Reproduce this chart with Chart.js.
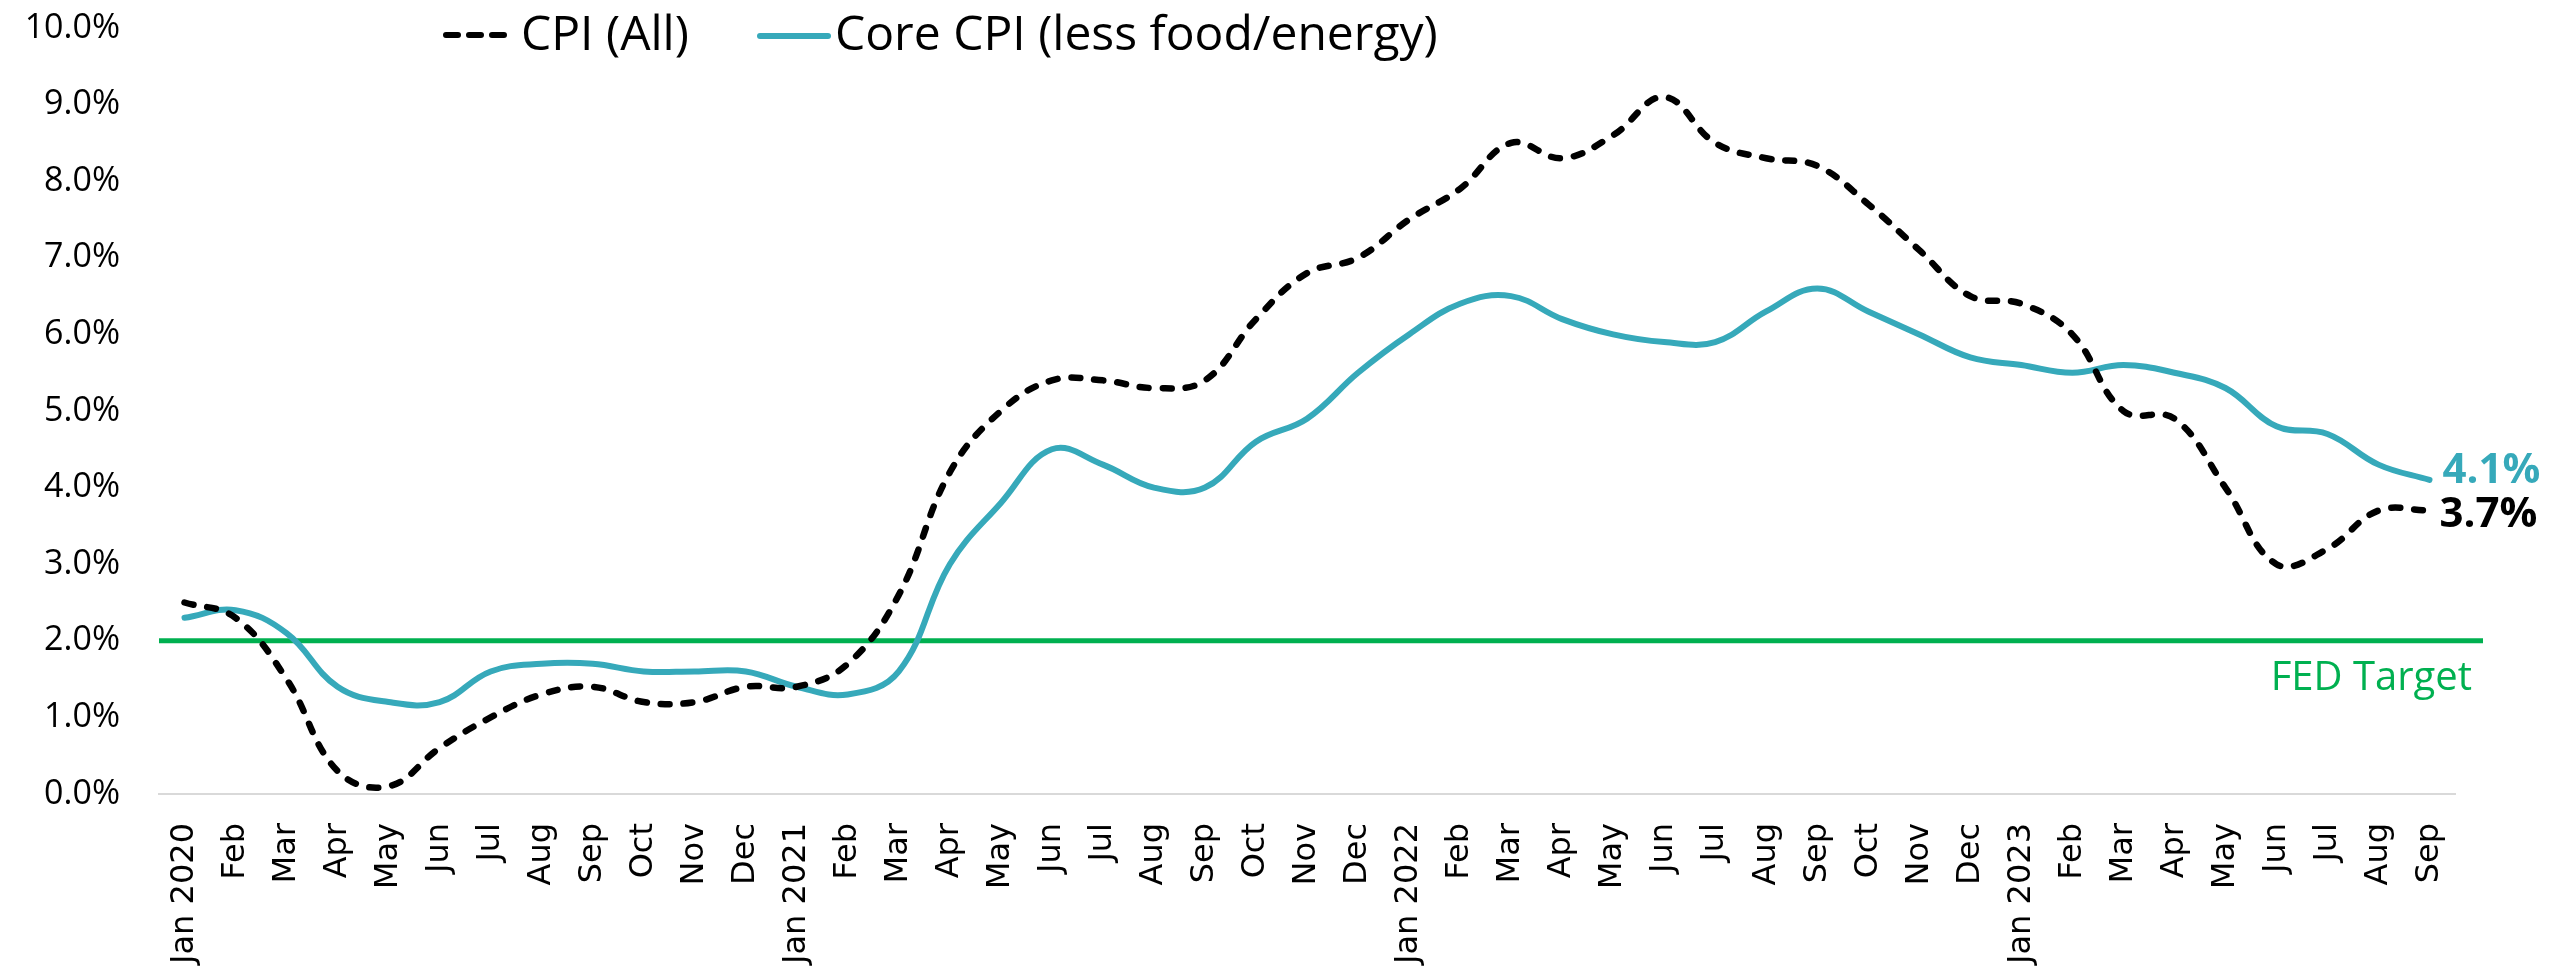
<!DOCTYPE html>
<html>
<head>
<meta charset="utf-8">
<script src="https://cdn.jsdelivr.net/npm/chart.js@4.4.0/dist/chart.umd.min.js"></script>
<style>
html,body{margin:0;padding:0;background:#ffffff;}
#wrap{width:2552px;height:976px;position:relative;}
</style>
</head>
<body>
<div id="wrap"><canvas id="c" width="2552" height="976"></canvas></div>
<script>
// ---------- DATA ----------
const months = [
  'Jan 2020','Feb','Mar','Apr','May','Jun','Jul','Aug','Sep','Oct','Nov','Dec',
  'Jan 2021','Feb','Mar','Apr','May','Jun','Jul','Aug','Sep','Oct','Nov','Dec',
  'Jan 2022','Feb','Mar','Apr','May','Jun','Jul','Aug','Sep','Oct','Nov','Dec',
  'Jan 2023','Feb','Mar','Apr','May','Jun','Jul','Aug','Sep'
];
const cpiAll = [
  2.5, 2.3, 1.5, 0.3, 0.1, 0.6, 1.0, 1.3, 1.4, 1.2, 1.2, 1.4,
  1.4, 1.7, 2.6, 4.2, 5.0, 5.4, 5.4, 5.3, 5.4, 6.2, 6.8, 7.0,
  7.5, 7.9, 8.5, 8.3, 8.6, 9.1, 8.5, 8.3, 8.2, 7.7, 7.1, 6.5,
  6.4, 6.0, 5.0, 4.9, 4.0, 3.0, 3.2, 3.7, 3.7
];
const coreCpi = [
  2.3, 2.4, 2.1, 1.4, 1.2, 1.2, 1.6, 1.7, 1.7, 1.6, 1.6, 1.6,
  1.4, 1.3, 1.6, 3.0, 3.8, 4.5, 4.3, 4.0, 4.0, 4.6, 4.9, 5.5,
  6.0, 6.4, 6.5, 6.2, 6.0, 5.9, 5.9, 6.3, 6.6, 6.3, 6.0, 5.7,
  5.6, 5.5, 5.6, 5.5, 5.3, 4.8, 4.7, 4.3, 4.1
];
const fedTarget = 2.0;
const fedTargetLabel = 'FED Target';
const seriesLabels = ['CPI (All)', 'Core CPI (less food/energy)'];
const yMin = 0, yMax = 10, yStep = 1;

// ---------- STYLE ----------
const TEAL = '#36A9BA';
const GREEN = '#00B050';
const FONT = '"Open Sans", "Noto Sans", sans-serif';

const overlay = {
  id: 'overlay',
  beforeDatasetsDraw(chart) {
    const {ctx, chartArea, scales: {y}} = chart;
    const yy = y.getPixelForValue(fedTarget);
    ctx.save();
    ctx.strokeStyle = GREEN;
    ctx.lineWidth = 5;
    ctx.beginPath();
    ctx.moveTo(chartArea.left, yy);
    ctx.lineTo(chartArea.right + 28, yy);
    ctx.stroke();
    ctx.font = '40px ' + FONT;
    ctx.fillStyle = GREEN;
    ctx.textAlign = 'right';
    ctx.textBaseline = 'alphabetic';
    ctx.fillText(fedTargetLabel, chartArea.right + 17, yy + 49);
    ctx.restore();
  },
  afterDatasetsDraw(chart) {
    const {ctx} = chart;
    ctx.save();
    // end labels
    const m0 = chart.getDatasetMeta(0).data;
    const m1 = chart.getDatasetMeta(1).data;
    const p0 = m0[m0.length - 1], p1 = m1[m1.length - 1];
    ctx.font = 'bold 42px ' + FONT;
    ctx.textAlign = 'left';
    ctx.textBaseline = 'alphabetic';
    ctx.fillStyle = TEAL;
    ctx.fillText(coreCpi[coreCpi.length - 1].toFixed(1) + '%', p1.x + 13, p1.y + 3);
    ctx.fillStyle = '#000000';
    ctx.fillText(cpiAll[cpiAll.length - 1].toFixed(1) + '%', p0.x + 10, p0.y + 16);

    // legend
    ctx.lineCap = 'round';
    ctx.strokeStyle = '#000000';
    ctx.lineWidth = 6;
    ctx.setLineDash([12, 11]);
    ctx.beginPath();
    ctx.moveTo(446, 35);
    ctx.lineTo(506, 35);
    ctx.stroke();
    ctx.setLineDash([]);
    ctx.strokeStyle = TEAL;
    ctx.beginPath();
    ctx.moveTo(760, 36);
    ctx.lineTo(828, 36);
    ctx.stroke();
    ctx.font = '48px ' + FONT;
    ctx.fillStyle = '#000000';
    ctx.fillText(seriesLabels[0], 521, 50);
    ctx.fillText(seriesLabels[1], 835, 50);
    ctx.restore();
  }
};

new Chart(document.getElementById('c'), {
  type: 'line',
  data: {
    labels: months,
    datasets: [
      {
        label: seriesLabels[0],
        data: cpiAll,
        borderColor: '#000000',
        borderWidth: 6.5,
        borderDash: [9, 14],
        borderCapStyle: 'round',
        borderJoinStyle: 'round',
        pointRadius: 0,
        tension: 0.4,
        fill: false
      },
      {
        label: seriesLabels[1],
        data: coreCpi,
        borderColor: TEAL,
        borderWidth: 6,
        borderCapStyle: 'round',
        borderJoinStyle: 'round',
        pointRadius: 0,
        tension: 0.4,
        fill: false
      }
    ]
  },
  options: {
    responsive: false,
    animation: false,
    devicePixelRatio: 1,
    layout: {padding: {top: 28, right: 97, left: 0, bottom: 0}},
    plugins: {legend: {display: false}, tooltip: {enabled: false}},
    scales: {
      x: {
        offset: true,
        grid: {display: false, drawTicks: false},
        border: {display: true, color: '#d9d9d9', width: 2},
        ticks: {
          autoSkip: false,
          maxRotation: 90,
          minRotation: 90,
          padding: 29,
          color: '#000000',
          font: {family: '"DejaVu Sans", sans-serif', size: 32}
        },
        afterFit(scale) { scale.height = 182; scale.paddingTop = 0; }
      },
      y: {
        min: yMin,
        max: yMax,
        grid: {display: false, drawTicks: false},
        border: {display: false},
        ticks: {
          stepSize: yStep,
          padding: 39,
          color: '#000000',
          font: {family: FONT, size: 34},
          callback: (v) => Number(v).toFixed(1) + '%'
        },
        afterFit(scale) { scale.width = 159; scale.paddingTop = 0; scale.paddingBottom = 0; }
      }
    }
  },
  plugins: [overlay]
});
</script>
</body>
</html>
